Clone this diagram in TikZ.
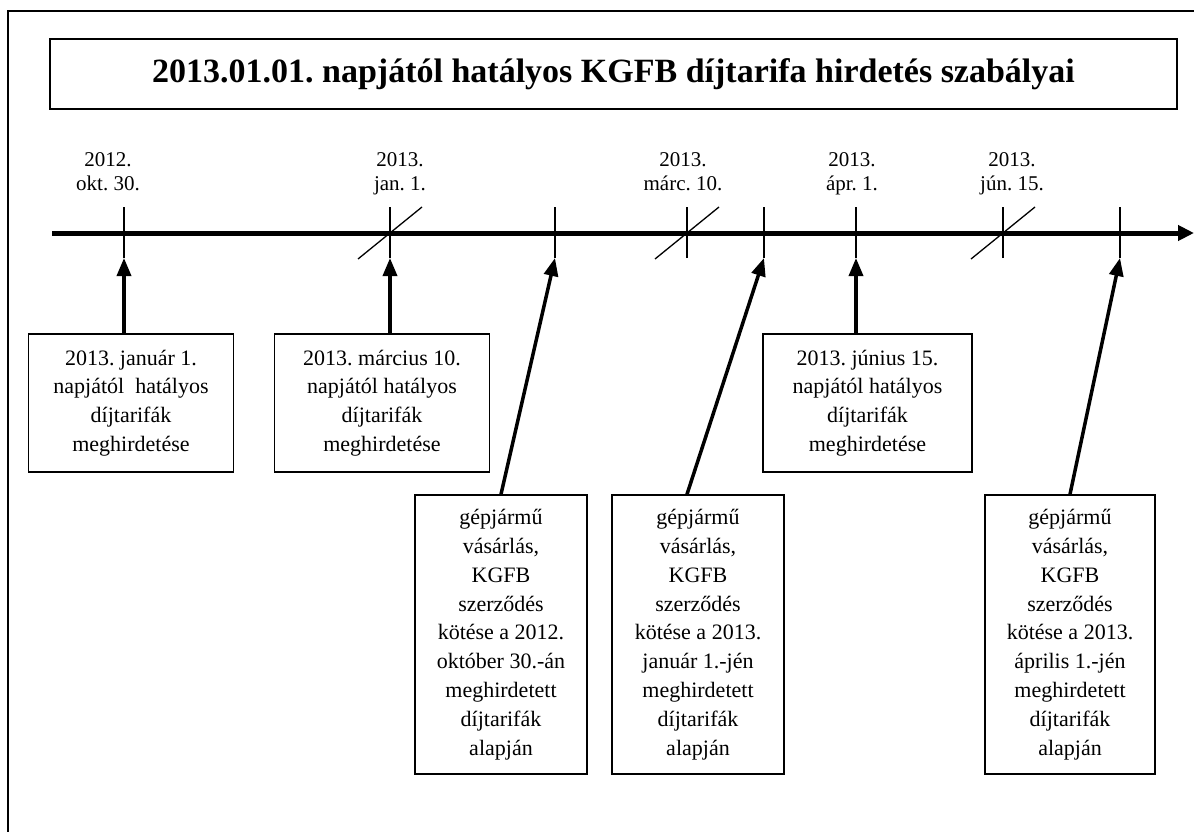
\documentclass[tikz,border=0pt]{standalone}
\usepackage{fontspec}
\setmainfont{Liberation Serif}
\usetikzlibrary{arrows.meta}
\frenchspacing

\begin{document}
\begin{tikzpicture}
[x=1pt,y=-1pt,
 titlebox/.style={draw,line width=1.5pt,inner sep=0pt,minimum width=1127pt,minimum height=70pt,font=\fontsize{34}{40}\selectfont\bfseries},
 smallbox/.style={draw,line width=1.5pt,inner sep=0pt,align=center,minimum height=138pt,font=\fontsize{22}{28.8}\selectfont},
 tallbox/.style={smallbox,minimum width=172pt,minimum height=279pt},
 datelabel/.style={align=center,inner sep=0pt,anchor=north,font=\fontsize{21}{23.5}\selectfont},
 tickline/.style={line width=1.3pt},
 upline/.style={line width=3.5pt,-{Triangle[length=18pt,width=14pt]}}]
  \path[use as bounding box,fill=white] (0,0) rectangle (1194,832);
  \draw[line width=1.5pt] (8,840) -- (8,11) -- (1200,11);

  \node[titlebox] (title) at (613.5,74) {2013.01.01. napjától hatályos KGFB díjtarifa hirdetés szabályai};

  % dates above the line
  \node[datelabel] (d1) at (108,152.5)  {2012.\\okt. 30.};
  \node[datelabel] (d2) at (400,152.5)  {2013.\\jan. 1.};
  \node[datelabel] (d3) at (683,152.5)  {2013.\\márc. 10.};
  \node[datelabel] (d4) at (852,152.5)  {2013.\\ápr. 1.};
  \node[datelabel] (d5) at (1012,152.5) {2013.\\jún. 15.};

  % time line
  \coordinate (start) at (52,233);
  \coordinate (end) at (1194,233);
  \draw[line width=5pt,-{Triangle[length=16pt,width=15pt]}] (start) -- (end);

  \coordinate (okt) at (124,258);
  \coordinate (jan) at (390,258);
  \coordinate (u1) at (555,258);
  \coordinate (marc) at (687,258);
  \coordinate (u2) at (764,258);
  \coordinate (apr) at (856,258);
  \coordinate (jun) at (1003,258);
  \coordinate (u3) at (1120,258);

  \foreach \t in {okt,jan,u1,marc,u2,apr,jun,u3}
    \draw[tickline] (\t) -- ++(0,-51);
  \foreach \t in {jan,marc,jun}
    \draw[tickline] (\t) ++(-32,1) -- ++(64,-52);

  % boxes
  \node[smallbox,minimum width=205pt] (b1) at (131,403) {2013. január 1.\\napjától\ \ hatályos\\díjtarifák\\meghirdetése};
  \node[smallbox,minimum width=215pt] (b2) at (382,403) {2013. március 10.\\napjától hatályos\\díjtarifák\\meghirdetése};
  \node[smallbox,minimum width=209pt] (b5) at (867.5,403) {2013. június 15.\\napjától hatályos\\díjtarifák\\meghirdetése};

  \node[tallbox] (b3) at (501,634.5) {gépjármű\\vásárlás,\\KGFB\\szerződés\\kötése a 2012.\\október 30.-án\\meghirdetett\\díjtarifák\\alapján};
  \node[tallbox] (b4) at (698,634.5) {gépjármű\\vásárlás,\\KGFB\\szerződés\\kötése a 2013.\\január 1.-jén\\meghirdetett\\díjtarifák\\alapján};
  \node[tallbox,minimum width=170pt] (b6) at (1070,634.5) {gépjármű\\vásárlás,\\KGFB\\szerződés\\kötése a 2013.\\április 1.-jén\\meghirdetett\\díjtarifák\\alapján};

  \foreach \from/\to in {b1/okt,b2/jan,b5/apr}
    \draw[upline] (\from.north -| \to) -- (\to);
  \foreach \from/\to/\dx in {b3/u1/0,b4/u2/-11,b6/u3/0}
    \draw[upline] ([xshift=\dx pt]\from.north) -- (\to);
\end{tikzpicture}
\end{document}
